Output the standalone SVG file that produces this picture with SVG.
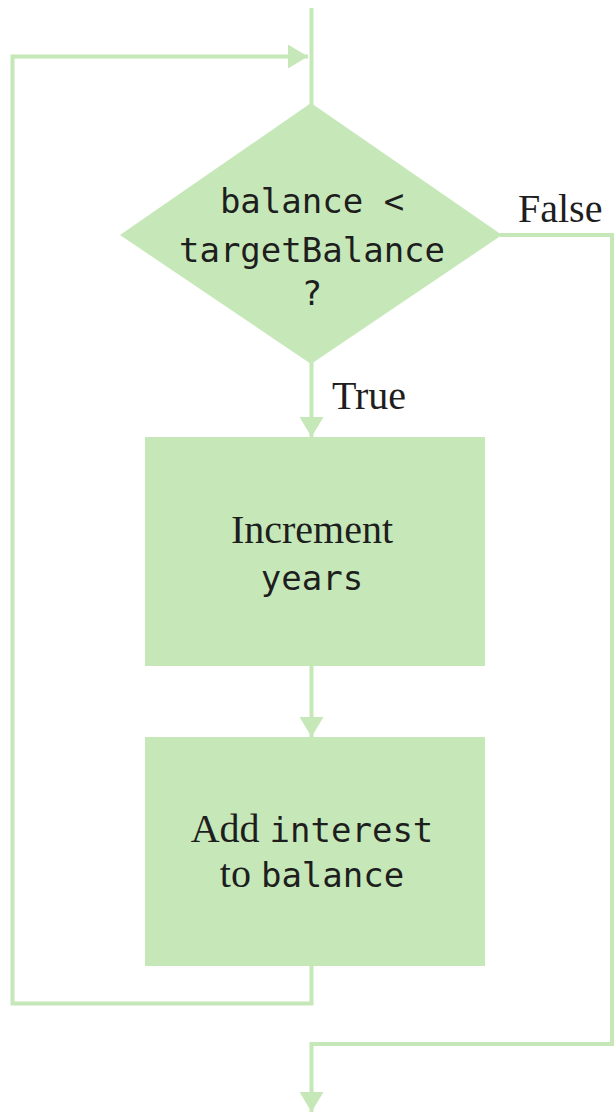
<svg xmlns="http://www.w3.org/2000/svg" width="614" height="1112" viewBox="0 0 614 1112">
  <style>
    .flow { fill: none; stroke: #c6e8b8; stroke-width: 4; }
    .shape { fill: #c6e8b8; stroke: none; }
    .mono { font-family: "DejaVu Sans Mono", "Liberation Mono", monospace; font-size: 34px; fill: #1e1e1e; }
    .serif { font-family: "Liberation Serif", "DejaVu Serif", serif; font-size: 40px; fill: #1e1e1e; }
  </style>
  <defs>
    <marker id="arrow" markerUnits="userSpaceOnUse" markerWidth="20" markerHeight="24" refX="20" refY="12" orient="auto" viewBox="0 0 20 24">
      <polygon points="0,0 20,12 0,24" fill="#c6e8b8"/>
    </marker>
  </defs>
  <rect width="614" height="1112" fill="#ffffff"/>
  <g id="connectors">
    <line class="flow" x1="311.5" y1="8" x2="311.5" y2="106"/>
    <path class="flow" d="M311.5,966 V1003.5 H12.5 V56.5 H308" marker-end="url(#arrow)"/>
    <path class="flow" d="M311.5,362 V437" marker-end="url(#arrow)"/>
    <path class="flow" d="M311.5,664 V737" marker-end="url(#arrow)"/>
    <path class="flow" d="M500,235 H612 V1044 H311.5 V1112" marker-end="url(#arrow)"/>
  </g>
  <g id="decision">
    <polygon class="shape" points="311,103 502,235 311,364 120,235"/>
    <text class="mono" x="312" y="213" text-anchor="middle">balance &lt;</text>
    <text class="mono" x="312" y="262" text-anchor="middle">targetBalance</text>
    <text class="mono" x="312" y="305" text-anchor="middle">?</text>
  </g>
  <g id="label-false">
    <text class="serif" x="518" y="222">False</text>
  </g>
  <g id="label-true">
    <text class="serif" x="332" y="409">True</text>
  </g>
  <g id="increment">
    <rect class="shape" x="145" y="437" width="340" height="229"/>
    <text class="serif" x="312" y="543" text-anchor="middle">Increment</text>
    <text class="mono" x="312" y="590" text-anchor="middle">years</text>
  </g>
  <g id="add-interest">
    <rect class="shape" x="145" y="737" width="340" height="229"/>
    <text x="312" y="842" text-anchor="middle"><tspan class="serif">Add </tspan><tspan class="mono">interest</tspan></text>
    <text x="312" y="887" text-anchor="middle"><tspan class="serif">to </tspan><tspan class="mono">balance</tspan></text>
  </g>
</svg>
